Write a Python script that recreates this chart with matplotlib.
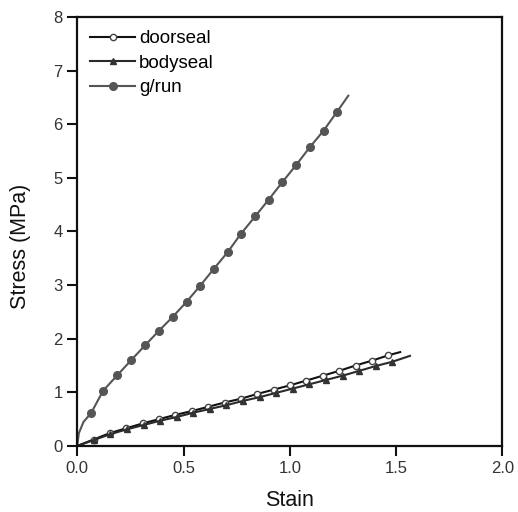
import matplotlib
matplotlib.use('Agg')
import matplotlib.pyplot as plt

plt.rcParams['font.family'] = ['Liberation Sans', 'DejaVu Sans']

# g/run curve (line points); markers sit on every point except the first three and the last
grun_x = [0.0, 0.008, 0.03, 0.065, 0.122, 0.189, 0.254, 0.32, 0.385, 0.45, 0.515,
          0.579, 0.642, 0.707, 0.769, 0.837, 0.9, 0.965, 1.03, 1.094, 1.159, 1.22, 1.275]
grun_y = [0.0, 0.24, 0.45, 0.61, 1.03, 1.32, 1.60, 1.88, 2.15, 2.41, 2.69,
          2.99, 3.30, 3.61, 3.95, 4.28, 4.59, 4.92, 5.24, 5.57, 5.88, 6.22, 6.53]

door_x = [0.0, 0.077, 0.154, 0.231, 0.308, 0.385, 0.462, 0.539, 0.616, 0.693, 0.770,
          0.847, 0.924, 1.001, 1.078, 1.155, 1.232, 1.309, 1.386, 1.463, 1.519]
door_y = [0.0, 0.12, 0.24, 0.33, 0.42, 0.50, 0.58, 0.65, 0.73, 0.81, 0.88,
          0.97, 1.05, 1.13, 1.22, 1.31, 1.40, 1.50, 1.59, 1.69, 1.75]

body_x = [0.0, 0.078, 0.156, 0.234, 0.312, 0.39, 0.468, 0.546, 0.624, 0.702, 0.78,
          0.858, 0.936, 1.014, 1.092, 1.17, 1.248, 1.326, 1.404, 1.482, 1.565]
body_y = [0.0, 0.11, 0.22, 0.31, 0.39, 0.47, 0.54, 0.62, 0.69, 0.76, 0.84,
          0.91, 0.99, 1.07, 1.15, 1.23, 1.31, 1.40, 1.49, 1.57, 1.68]

fig = plt.figure(figsize=(5.18, 5.12), dpi=100)
ax = fig.add_axes([0.149, 0.129, 0.821, 0.838])

ax.plot(door_x, door_y, '-o', color='#111111', lw=1.5, ms=4.5,
        mfc='white', mec='#444444', mew=1.0,
        markevery=list(range(1, len(door_x) - 1)), label='doorseal')
ax.plot(body_x, body_y, '-^', color='#2a2a2a', lw=1.5, ms=5,
        mfc='#333333', mec='#333333',
        markevery=list(range(1, len(body_x) - 1)), label='bodyseal')
ax.plot(grun_x, grun_y, '-o', color='#555555', lw=1.5, ms=5.5,
        mfc='#555555', mec='#555555',
        markevery=list(range(3, len(grun_x) - 1)), label='g/run')

ax.set_xlim(0, 2.0)
ax.set_ylim(0, 8)
ax.set_xticks([0.0, 0.5, 1.0, 1.5, 2.0])
ax.set_yticks(range(0, 9))
ax.tick_params(direction='out', length=7, width=1.5, labelsize=12,
               color='#111111', labelcolor='#333333')
for s in ax.spines.values():
    s.set_linewidth(1.6)
    s.set_color('#111111')

ax.set_xlabel('Stain', fontsize=15.5, color='#111111')
ax.set_ylabel('Stress (MPa)', fontsize=15.5, color='#111111')
ax.xaxis.set_label_coords(0.5, -0.103)
ax.yaxis.set_label_coords(-0.108, 0.466)

ax.legend(loc='upper left', frameon=False, fontsize=13.5, handlelength=2.4,
          handletextpad=0.2, labelspacing=0.4, borderaxespad=0.3)

fig.savefig('out.png', dpi=100)
